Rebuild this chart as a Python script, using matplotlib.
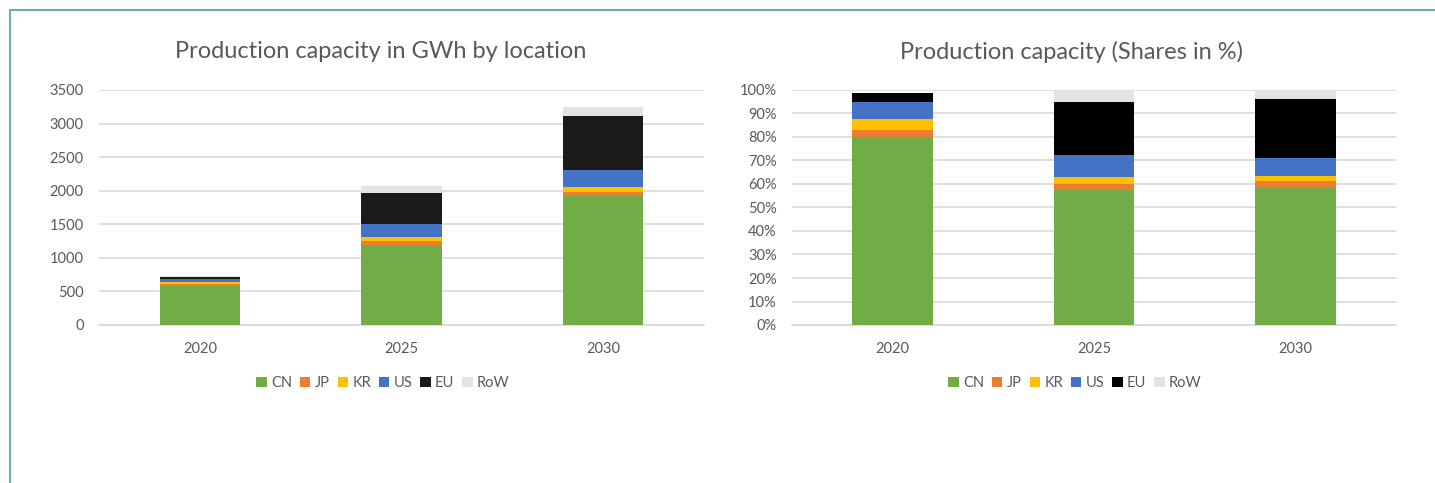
import matplotlib.pyplot as plt
from matplotlib.patches import Patch
from matplotlib.lines import Line2D
import numpy as np

plt.rcParams['font.family'] = ['Lato', 'DejaVu Sans']

years = ['2020', '2025', '2030']
regions = ['CN', 'JP', 'KR', 'US', 'EU', 'RoW']

# capacity in GWh per region and year
cn = [585, 1195, 1915]
jp = [22, 50, 70]
kr = [33, 62, 70]
us = [52, 200, 254]
eu = [28, 465, 804]
row = [5, 103, 130]

# shares in %
cn_pct = [80.0, 57.6, 58.9]
jp_pct = [3.0, 2.4, 2.5]
kr_pct = [4.7, 2.9, 1.9]
us_pct = [7.1, 9.6, 7.9]
eu_pct = [4.1, 22.5, 24.8]
row_pct = [0.0, 5.0, 4.0]

colors_left = ['#70AD47', '#ED7D31', '#FFC000', '#4472C4', '#1A1A1A', '#E3E3E3']
colors_right = ['#70AD47', '#ED7D31', '#FFC000', '#4472C4', '#000000', '#E3E3E3']

text_col = '#595959'
grid_col = '#D9D9D9'

W, H = 1435, 483
fig = plt.figure(figsize=(W / 100, H / 100), dpi=100)

# frame lines on the top and left edge
fig.add_artist(Line2D([10 / W, 1], [1 - 10 / H, 1 - 10 / H], color='#6FA8B8', lw=1.5))
fig.add_artist(Line2D([10 / W, 10 / W], [0, 1 - 10 / H], color='#6FA8B8', lw=1.5))

bottom = (H - 325) / H
height = 235 / H
ax1 = fig.add_axes([99 / W, bottom, 605 / W, height])
ax2 = fig.add_axes([792 / W, bottom, 604 / W, height])


def stacked(ax, series, colors, center):
    x = np.arange(len(years))
    base = np.zeros(len(years))
    for vals, c in zip(series, colors):
        vals = np.array(vals, dtype=float)
        ax.bar(x, vals, 0.4, bottom=base, color=c, linewidth=0, zorder=3)
        base += vals
    ax.set_xlim(-0.5, len(years) - 0.5)
    ax.set_xticks(x)
    ax.set_xticklabels(years)
    for s in ['top', 'right', 'left']:
        ax.spines[s].set_visible(False)
    ax.spines['bottom'].set_color(grid_col)
    ax.spines['bottom'].set_linewidth(1.2)
    ax.grid(axis='y', color=grid_col, linewidth=1.2, zorder=0)
    ax.tick_params(length=0, colors=text_col, labelsize=10.5)
    ax.tick_params(axis='y', pad=11)
    ax.tick_params(axis='x', pad=12)
    handles = [Patch(facecolor=c, label=r) for c, r in zip(colors, regions)]
    fig.legend(handles=handles, loc='center', bbox_to_anchor=(center / W, 1 - 383 / H), ncol=6,
               frameon=False, handlelength=0.7, handleheight=0.7, handletextpad=0.3,
               columnspacing=0.55, fontsize=10.5, labelcolor=text_col)


stacked(ax1, [cn, jp, kr, us, eu, row], colors_left, 383)
ax1.set_ylim(0, 3500)
ax1.set_yticks(range(0, 3501, 500))

stacked(ax2, [np.array(s) / 100 for s in [cn_pct, jp_pct, kr_pct, us_pct, eu_pct, row_pct]],
        colors_right, 1075)
ax2.set_ylim(0, 1.0)
ax2.set_yticks(np.arange(0, 1.01, 0.1))
ax2.set_yticklabels([f'{p}%' for p in range(0, 101, 10)])

fig.text(381 / W, 1 - 52 / H, 'Production capacity in GWh by location', ha='center', va='center',
         fontsize=17, color=text_col)
fig.text(1071 / W, 1 - 52 / H, 'Production capacity (Shares in %)', ha='center', va='center',
         fontsize=17, color=text_col)

fig.savefig('out.png', dpi=100, facecolor='white')
